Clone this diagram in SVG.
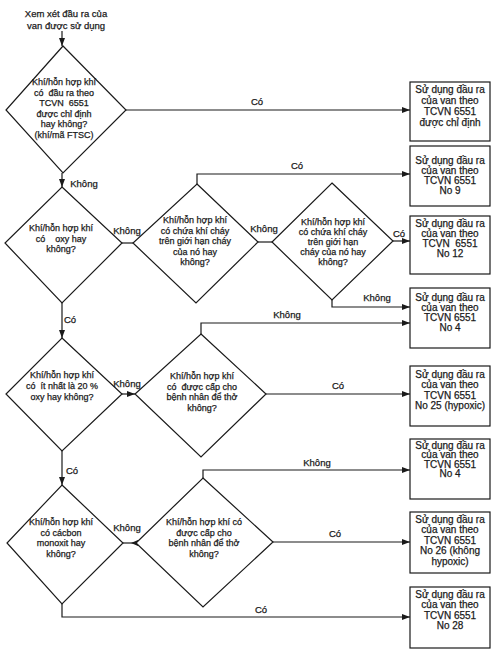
<svg xmlns="http://www.w3.org/2000/svg" width="499" height="661" viewBox="0 0 499 661">
<style>
text{font-family:"Liberation Sans",Arial,sans-serif;fill:#1a1a1a;stroke:#1a1a1a;stroke-width:0.25;text-anchor:middle;dominant-baseline:central;white-space:pre}
.d text{font-size:9px}
.b text{font-size:10px}
.lbl{font-size:9.5px}
.shape{fill:#fff;stroke:#1a1a1a;stroke-width:1.2}
.c{fill:none;stroke:#1a1a1a;stroke-width:1.2}
</style>
<defs>
<marker id="ah" viewBox="0 0 8 6" markerWidth="8" markerHeight="6" refX="8" refY="3" orient="auto" markerUnits="userSpaceOnUse">
<path d="M0,0 L8,3 L0,6 z" fill="#1a1a1a"/>
</marker>
</defs>
<rect width="499" height="661" fill="#fff"/>

<g id="start">
<text class="lbl" x="66" y="13">Xem xét đầu ra của</text>
<text class="lbl" x="66" y="25">van được sử dụng</text>
</g>

<g id="connectors">
<path class="c" d="M62,31 V46" marker-end="url(#ah)"/>
<path class="c" d="M126,110 H410" marker-end="url(#ah)"/>
<text class="lbl" x="257" y="101">Có</text>
<path class="c" d="M62,173 V187" marker-end="url(#ah)"/>
<text class="lbl" x="84" y="183">Không</text>
<path class="c" d="M197,184 V174 H410" marker-end="url(#ah)"/>
<text class="lbl" x="297" y="165">Có</text>
<path class="c" d="M122,243 H133"/>
<text class="lbl" x="127" y="230">Không</text>
<path class="c" d="M258,242 H272"/>
<text class="lbl" x="264" y="228">Không</text>
<path class="c" d="M393,241 H410" marker-end="url(#ah)"/>
<text class="lbl" x="399" y="233">Có</text>
<path class="c" d="M332,300 V307 H410" marker-end="url(#ah)"/>
<text class="lbl" x="377" y="297">Không</text>
<path class="c" d="M201,334 V323 H410" marker-end="url(#ah)"/>
<text class="lbl" x="287" y="314">Không</text>
<path class="c" d="M62,303 V338" marker-end="url(#ah)"/>
<text class="lbl" x="70" y="319">Có</text>
<path class="c" d="M122,394 H135" marker-end="url(#ah)"/>
<text class="lbl" x="127" y="383">Không</text>
<path class="c" d="M266,394 H410" marker-end="url(#ah)"/>
<text class="lbl" x="338" y="385">Có</text>
<path class="c" d="M62,451 V485" marker-end="url(#ah)"/>
<text class="lbl" x="72" y="470">Có</text>
<path class="c" d="M203,478 V470 H410" marker-end="url(#ah)"/>
<text class="lbl" x="317" y="462">Không</text>
<path class="c" d="M136,543 H123"/>
<path d="M131,543 L138,540 L138,546 z" fill="#1a1a1a"/>
<text class="lbl" x="127" y="527">Không</text>
<path class="c" d="M273,542 H410" marker-end="url(#ah)"/>
<text class="lbl" x="335" y="533">Có</text>
<path class="c" d="M62,604 V617 H410" marker-end="url(#ah)"/>
<text class="lbl" x="261" y="609">Có</text>
</g>

<g id="d1" class="d">
<polygon class="shape" points="63,46 126,110 63,173 6,110"/>
<text x="64" y="82">Khí/hỗn hợp khí</text>
<text x="64" y="92.5">có  đầu ra theo</text>
<text x="64" y="103">TCVN  6551</text>
<text x="64" y="113.5">được chỉ định</text>
<text x="64" y="124">hay không?</text>
<text x="64" y="134.5">(khí/mã FTSC)</text>
</g>

<g id="d2" class="d">
<polygon class="shape" points="62,187 122,243 62,303 5,243"/>
<text x="61" y="228">Khí/hỗn hợp khí</text>
<text x="61" y="238.5">có    oxy hay</text>
<text x="61" y="249">không?</text>
</g>

<g id="d3" class="d">
<polygon class="shape" points="197,184 258,242 196,303 133,243"/>
<text x="195" y="220">Khí/hỗn hợp khí</text>
<text x="195" y="230.5">có chứa khí cháy</text>
<text x="195" y="241">trên giới hạn cháy</text>
<text x="195" y="251.5">của nó hay</text>
<text x="195" y="262">không?</text>
</g>

<g id="d4" class="d">
<polygon class="shape" points="332,183 393,241 332,300 272,242"/>
<text x="333" y="222">Khí/hỗn hợp khí</text>
<text x="333" y="232">có chứa khí cháy</text>
<text x="333" y="242">trên giới hạn</text>
<text x="333" y="252">cháy của nó hay</text>
<text x="333" y="262">không?</text>
</g>

<g id="d5" class="d">
<polygon class="shape" points="62,338 122,394 62,451 6,394"/>
<text x="62" y="375">Khí/hỗn hợp khí</text>
<text x="62" y="386">có  ít nhất là 20 %</text>
<text x="62" y="397">oxy hay không?</text>
</g>

<g id="d6" class="d">
<polygon class="shape" points="201,334 266,394 201,457 135,394"/>
<text x="202" y="376">Khí/hỗn hợp khí</text>
<text x="202" y="386.5">có  được cấp cho</text>
<text x="202" y="397">bệnh nhân để thở</text>
<text x="202" y="407.5">không?</text>
</g>

<g id="d7" class="d">
<polygon class="shape" points="203,478 273,542 203,607 136,543"/>
<text x="204" y="522">Khí/hỗn hợp khí có</text>
<text x="204" y="532.5">được cấp cho</text>
<text x="204" y="543">bệnh nhân để thở</text>
<text x="204" y="553.5">không?</text>
</g>

<g id="d8" class="d">
<polygon class="shape" points="62,485 123,543 62,604 7,543"/>
<text x="61" y="522">Khí/hỗn hợp khí</text>
<text x="61" y="532.5">có cácbon</text>
<text x="61" y="543">monoxit hay</text>
<text x="61" y="553.5">không?</text>
</g>

<g id="b1" class="b">
<rect class="shape" x="410" y="82" width="80" height="59"/>
<text x="450" y="89">Sử dụng đầu ra</text>
<text x="450" y="100">của van theo</text>
<text x="450" y="111">TCVN 6551</text>
<text x="450" y="122">được chỉ định</text>
</g>

<g id="b2" class="b">
<rect class="shape" x="410" y="146" width="80" height="60"/>
<text x="450" y="160">Sử dụng đầu ra</text>
<text x="450" y="170">của van theo</text>
<text x="450" y="180">TCVN 6551</text>
<text x="450" y="190">No 9</text>
</g>

<g id="b3" class="b">
<rect class="shape" x="410" y="216" width="80" height="58"/>
<text x="450" y="223">Sử dụng đầu ra</text>
<text x="450" y="233">của van theo</text>
<text x="450" y="243">TCVN  6551</text>
<text x="450" y="253">No 12</text>
</g>

<g id="b4" class="b">
<rect class="shape" x="410" y="288" width="80" height="60"/>
<text x="450" y="297">Sử dụng đầu ra</text>
<text x="450" y="307">của van theo</text>
<text x="450" y="317">TCVN 6551</text>
<text x="450" y="327">No 4</text>
</g>

<g id="b5" class="b">
<rect class="shape" x="410" y="366" width="80" height="60"/>
<text x="450" y="374">Sử dụng đầu ra</text>
<text x="450" y="384.5">của van theo</text>
<text x="450" y="395">TCVN 6551</text>
<text x="450" y="405.5">No 25 (hypoxic)</text>
</g>

<g id="b6" class="b">
<rect class="shape" x="410" y="439" width="80" height="60"/>
<text x="450" y="445">Sử dụng đầu ra</text>
<text x="450" y="454.5">của van theo</text>
<text x="450" y="464">TCVN 6551</text>
<text x="450" y="473.5">No 4</text>
</g>

<g id="b7" class="b">
<rect class="shape" x="410" y="512" width="80" height="61"/>
<text x="450" y="519">Sử dụng đầu ra</text>
<text x="450" y="529.5">của van theo</text>
<text x="450" y="540">TCVN 6551</text>
<text x="450" y="550.5">No 26 (không</text>
<text x="450" y="561">hypoxic)</text>
</g>

<g id="b8" class="b">
<rect class="shape" x="410" y="587" width="80" height="61"/>
<text x="450" y="594">Sử dụng đầu ra</text>
<text x="450" y="604.5">của van theo</text>
<text x="450" y="615">TCVN 6551</text>
<text x="450" y="625.5">No 28</text>
</g>
</svg>
